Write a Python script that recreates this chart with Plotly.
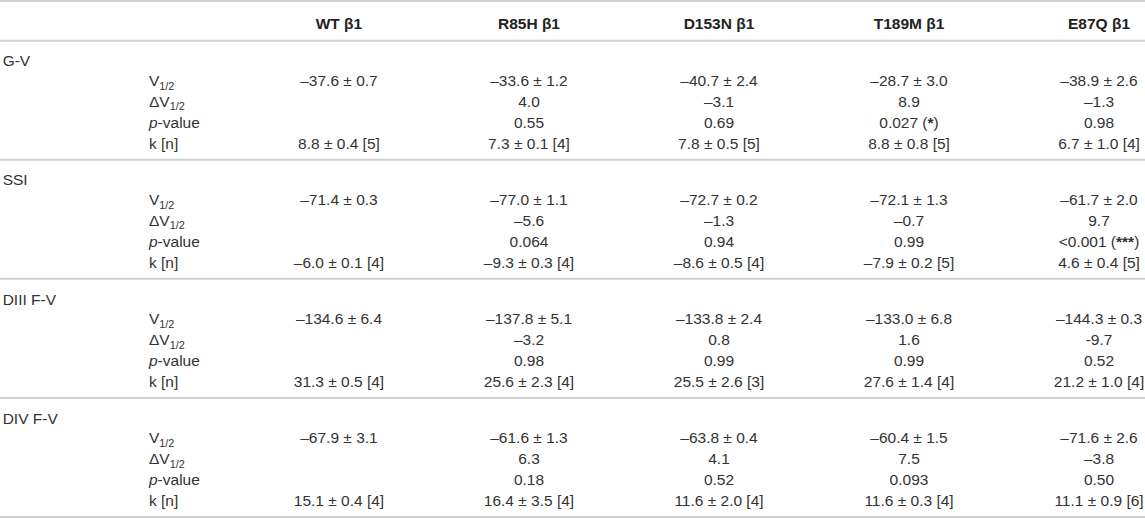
import plotly.graph_objects as go

# ---------------- data ----------------
columns = ["WT β1", "R85H β1", "D153N β1", "T189M β1", "E87Q β1"]
sections = ["G-V", "SSI", "DIII F-V", "DIV F-V"]
row_labels = ["V<sub>1/2</sub>", "ΔV<sub>1/2</sub>", "<i>p</i>-value", "k [n]"]

# each section: rows (V1/2, ΔV1/2, p-value, k[n]); each row lists values per column
gv = [
    ["–37.6 ± 0.7", "–33.6 ± 1.2", "–40.7 ± 2.4", "–28.7 ± 3.0", "–38.9 ± 2.6"],
    ["", "4.0", "–3.1", "8.9", "–1.3"],
    ["", "0.55", "0.69", "0.027 (<b>*</b>)", "0.98"],
    ["8.8 ± 0.4 [5]", "7.3 ± 0.1 [4]", "7.8 ± 0.5 [5]", "8.8 ± 0.8 [5]", "6.7 ± 1.0 [4]"],
]
ssi = [
    ["–71.4 ± 0.3", "–77.0 ± 1.1", "–72.7 ± 0.2", "–72.1 ± 1.3", "–61.7 ± 2.0"],
    ["", "–5.6", "–1.3", "–0.7", "9.7"],
    ["", "0.064", "0.94", "0.99", "&lt;0.001 (<b>***</b>)"],
    ["–6.0 ± 0.1 [4]", "–9.3 ± 0.3 [4]", "–8.6 ± 0.5 [4]", "–7.9 ± 0.2 [5]", "4.6 ± 0.4 [5]"],
]
diii = [
    ["–134.6 ± 6.4", "–137.8 ± 5.1", "–133.8 ± 2.4", "–133.0 ± 6.8", "–144.3 ± 0.3"],
    ["", "–3.2", "0.8", "1.6", "-9.7"],
    ["", "0.98", "0.99", "0.99", "0.52"],
    ["31.3 ± 0.5 [4]", "25.6 ± 2.3 [4]", "25.5 ± 2.6 [3]", "27.6 ± 1.4 [4]", "21.2 ± 1.0 [4]"],
]
div = [
    ["–67.9 ± 3.1", "–61.6 ± 1.3", "–63.8 ± 0.4", "–60.4 ± 1.5", "–71.6 ± 2.6"],
    ["", "6.3", "4.1", "7.5", "–3.8"],
    ["", "0.18", "0.52", "0.093", "0.50"],
    ["15.1 ± 0.4 [4]", "16.4 ± 3.5 [4]", "11.6 ± 2.0 [4]", "11.6 ± 0.3 [4]", "11.1 ± 0.9 [6]"],
]
section_values = [gv, ssi, diii, div]

# ---------------- layout helpers ----------------
TXT = "#333333"
LINE = "#d2d2d2"
FONT = "Liberation Sans, Arial, sans-serif"
FS = 15.5

HEADER_ROWS = 2          # row units occupied by the header
BLOCK = 6                # row units per section block
HEADER_OFF = 1.2
LABEL_OFF = 1.1
ROW_OFF = [2.1, 3.15, 4.2, 5.27]
n_units = HEADER_ROWS + BLOCK * len(sections)

SUB_X = -1.0             # sub-label column
SEC_X = -1.77            # section label column
XMIN, XMAX = -1.784, 4.242

fig = go.Figure()

# header
fig.add_trace(go.Scatter(
    x=list(range(len(columns))), y=[HEADER_OFF] * len(columns),
    mode="text", text=[f"<b>{c}</b>" for c in columns],
    textposition="middle center",
    textfont=dict(family=FONT, size=FS, color="#222222"),
    hoverinfo="skip", showlegend=False))

for s, (sec, vals) in enumerate(zip(sections, section_values)):
    base = HEADER_ROWS + s * BLOCK
    # section label
    fig.add_trace(go.Scatter(
        x=[SEC_X], y=[base + LABEL_OFF], mode="text", text=[sec],
        textposition="middle right",
        textfont=dict(family=FONT, size=FS, color=TXT),
        hoverinfo="skip", showlegend=False))
    # row labels
    fig.add_trace(go.Scatter(
        x=[SUB_X] * len(row_labels), y=[base + o for o in ROW_OFF],
        mode="text", text=row_labels, textposition="middle right",
        textfont=dict(family=FONT, size=FS, color=TXT),
        hoverinfo="skip", showlegend=False))
    # values (skip empty cells)
    for r, row in enumerate(vals):
        xs = [i for i, v in enumerate(row) if v]
        ts = [v for v in row if v]
        fig.add_trace(go.Scatter(
            x=xs, y=[base + ROW_OFF[r]] * len(xs),
            mode="text", text=ts, textposition="middle center",
            textfont=dict(family=FONT, size=FS, color=TXT),
            hoverinfo="skip", showlegend=False))

# horizontal rules
rule_ys = [0, HEADER_ROWS] + [HEADER_ROWS + BLOCK * (i + 1) for i in range(len(sections))]
for yv in rule_ys:
    fig.add_shape(type="line", xref="paper", yref="y", x0=0, x1=1, y0=yv, y1=yv,
                  line=dict(color=LINE, width=2))

fig.update_xaxes(visible=False, range=[XMIN, XMAX], fixedrange=True)
fig.update_yaxes(visible=False, range=[n_units + 0.1, -0.05], fixedrange=True)
fig.update_layout(
    width=1145, height=519,
    margin=dict(l=0, r=0, t=0, b=0),
    paper_bgcolor="white", plot_bgcolor="white",
    showlegend=False,
)

fig.write_html(
    "out.html",
    config={"displayModeBar": False},
    post_script="document.body.style.margin='0';document.body.style.padding='0';"
                "document.documentElement.style.overflow='hidden';",
)
